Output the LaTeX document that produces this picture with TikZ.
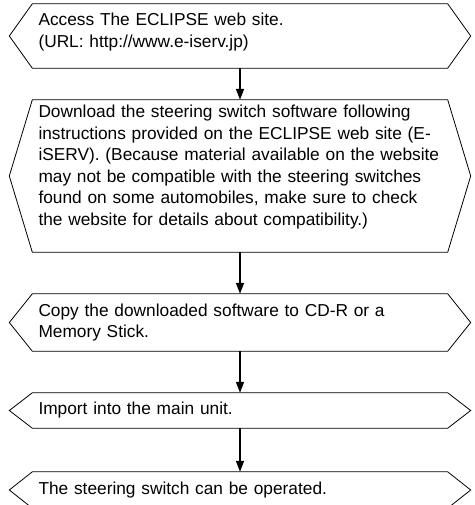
\documentclass[tikz,border=0pt]{standalone}
\usepackage{fontspec}
\setmainfont{Liberation Sans}
\usetikzlibrary{arrows.meta}

\tikzset{
  stepbox/.style={rectangle, inner xsep=6pt, inner ysep=0pt, text width=403pt, align=left,
    font=\fontsize{17.3}{21.6}\selectfont},
  stepframe/.style={line width=.8pt},
  steparrow/.style={line width=1.6pt, -{Triangle[length=11pt,width=8pt]}}
}
% hexagonal frame round a step node: #1 node, #2 tip depth
\newcommand\stepoutline[2]{%
  \draw[stepframe] (#1.north west) -- (#1.north east) -- ([xshift=#2]#1.east)
    -- (#1.south east) -- (#1.south west) -- ([xshift=-#2]#1.west) -- cycle;}

\begin{document}
\begin{tikzpicture}[x=1pt, y=-1pt]
\useasboundingbox (0,0) rectangle (474,505);
\node[stepbox, minimum height=64pt] (access) at (240,36)
  {Access The ECLIPSE web site.\\(URL: http://www.e-iserv.jp)\\[-10pt]\mbox{}};
\node[stepbox, minimum height=152pt] (download) at (240,176)
  {Download the steering switch software following\\
   instructions provided on the ECLIPSE web site (E-\\
   iSERV). (Because material available on the website\\
   may not be compatible with the steering switches\\
   found on some automobiles, make sure to check\\
   the website for details about compatibility.)\\\mbox{}};
\node[stepbox, minimum height=57pt] (copy) at (240,322.5)
  {Copy the downloaded software to CD-R or a\\Memory Stick.};
\node[stepbox, minimum height=35pt] (import) at (240,410.5)
  {Import into the main unit.};
\node[stepbox, minimum height=36pt] (operate) at (240,490)
  {The steering switch can be operated.};
\stepoutline{access}{23pt}
\stepoutline{download}{23pt}
\stepoutline{copy}{23pt}
\stepoutline{import}{23pt}
\stepoutline{operate}{23pt}
\draw[steparrow] (access) -- (download);
\draw[steparrow] (download) -- (copy);
\draw[steparrow] (copy) -- (import);
\draw[steparrow] (import) -- (operate);
\end{tikzpicture}
\end{document}
